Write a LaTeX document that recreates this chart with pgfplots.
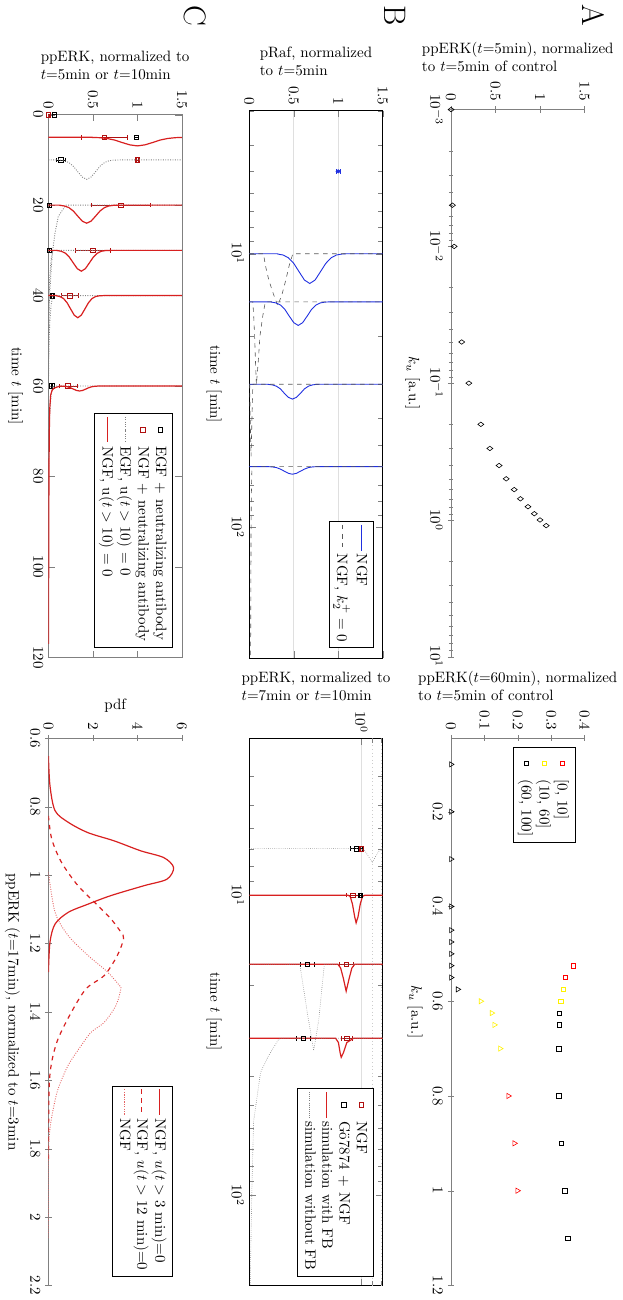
\documentclass[border=0pt]{standalone}
\usepackage{pgfplots}
\pgfplotsset{compat=1.18}
\usepackage{graphicx}
\definecolor{dred}{HTML}{B01010}
\definecolor{lred}{HTML}{D82020}
\definecolor{nblue}{HTML}{2030E0}
\pgfplotsset{
  panel/.style={scale only axis, width=365pt, height=89pt, anchor=north west,
    tick align=inside, ylabel style={align=left},
    legend cell align=left, legend style={font=\normalsize, inner sep=2pt, row sep=-1pt}},
  grayframe/.style={axis line style={gray}, tick style={gray}},
  markleg/.style={legend image code/.code={\path (0cm,0cm) (0.6cm,0cm); \draw[mark repeat=2,mark phase=2,##1] plot coordinates {(0cm,0cm) (0.3cm,0cm) (0.6cm,0cm)};}},
}
\begin{document}
\rotatebox{-90}{%
\begin{tikzpicture}
\node[font=\huge] at (10.7pt,-22.7pt) {A};
\node[font=\huge] at (10.7pt,-155.3pt) {B};
\node[font=\huge] at (10.7pt,-288.7pt) {C};

% ---------------- A left
\begin{axis}[panel, at={(73.3pt,-28.7pt)}, xmode=log, xmin=1e-3, xmax=10, ymin=0, ymax=1.5,
  axis lines=left, axis line style={gray,-}, tick style={gray}, ytick={0,0.5,1,1.5}, clip=false,
  xlabel={$k_u$ [a.u.]}, ylabel={ppERK($t$=5min), normalized\\to $t$=5min of control}]
\addplot[only marks, mark=diamond, mark size=2pt, black] coordinates {
(0.001,0) (0.005,0.015) (0.01,0.035) (0.05,0.12) (0.1,0.2) (0.2,0.335) (0.3,0.436)
(0.4,0.54) (0.5,0.62) (0.6,0.71) (0.7,0.78) (0.8,0.865) (0.9,0.936) (1.0,1.0) (1.1,1.07)};
\end{axis}

% ---------------- A right
\begin{axis}[panel, at={(492.7pt,-28.7pt)}, xmin=0.045, xmax=1.2, ymin=0, ymax=0.4,
  axis lines=left, axis line style={gray,-}, tick style={gray},
  xtick={0.2,0.4,0.6,0.8,1,1.2}, ytick={0,0.1,0.2,0.3,0.4}, clip=false,
  xlabel={$k_u$ [a.u.]}, ylabel={ppERK($t$=60min), normalized\\to $t$=5min of control},
  legend style={at={(0.016,0.93)}, anchor=north west}]
\addplot[only marks, mark=square, mark size=1.5pt, red, markleg] coordinates {(0.525,0.367) (0.55,0.343)};
\addlegendentry{[0, 10]}
\addplot[only marks, mark=square, mark size=1.5pt, yellow, markleg] coordinates {(0.575,0.336) (0.6,0.329)};
\addlegendentry{(10, 60]}
\addplot[only marks, mark=square, mark size=1.5pt, black, markleg] coordinates {
(0.625,0.325) (0.65,0.325) (0.7,0.323) (0.8,0.323) (0.9,0.331) (1.0,0.341) (1.1,0.35)};
\addlegendentry{(60, 100]}
\addplot[only marks, mark=triangle, mark size=2pt, black, forget plot] coordinates {
(0.1,0) (0.2,0) (0.3,0) (0.4,0) (0.45,0) (0.475,0) (0.5,0) (0.525,0) (0.55,0) (0.575,0.02)};
\addplot[only marks, mark=triangle, mark size=2pt, yellow, forget plot] coordinates {
(0.6,0.089) (0.625,0.122) (0.65,0.13) (0.7,0.147)};
\addplot[only marks, mark=triangle, mark size=2pt, red, forget plot] coordinates {
(0.8,0.172) (0.9,0.19) (1.0,0.199)};
\end{axis}

% ---------------- B left
\begin{axis}[panel, at={(74pt,-163.3pt)}, xmode=log, xmin=3, xmax=300, ymin=0, ymax=1.5,
  ytick={0,0.5,1,1.5}, ymajorgrids, grid style={gray!25},
  xlabel={time $t$ [min]}, ylabel={pRaf, normalized\\to $t$=5min},
  legend style={at={(0.982,0.933)}, anchor=north east}]
\addplot[nblue, semithick] coordinates {(10,0) (10,0.32) (10.03,0.32) (10.11,0.38) (10.35,0.44) (10.85,0.5) (11.64,0.56) (12.48,0.62) (12.85,0.68) (12.48,0.74) (11.64,0.8) (10.85,0.86) (10.35,0.92) (10.11,0.98) (10.03,1.04) (10,1.1) (10,1.5)};
\addlegendentry{NGF}
\addplot[gray!70!black, dashed] coordinates {(10,0) (10,0.16) (11,0.18) (12.5,0.22) (14,0.27) (15.5,0.32) (14,0.37) (12.5,0.41) (11,0.45) (10,0.49) (10,1.5)};
\addlegendentry{NGF, $k_2^+=0$}
\addplot[nblue, semithick, forget plot] coordinates {(15,0) (15,0.25) (15.03,0.25) (15.13,0.3) (15.4,0.35) (15.99,0.4) (16.92,0.45) (17.87,0.5) (18.29,0.55) (17.87,0.6) (16.92,0.65) (15.99,0.7) (15.4,0.75) (15.13,0.8) (15.03,0.85) (15,0.9) (15,1.5)};
\addplot[nblue, semithick, forget plot] coordinates {(30,0) (30,0.215) (30.04,0.215) (30.17,0.26) (30.5,0.305) (31.2,0.35) (32.4,0.395) (33.5,0.44) (34,0.485) (33.5,0.53) (32.4,0.575) (31.2,0.62) (30.5,0.665) (30.17,0.71) (30.04,0.755) (30,0.8) (30,1.5)};
\addplot[nblue, semithick, forget plot] coordinates {(60,0) (60,0.215) (60.04,0.215) (60.17,0.26) (60.5,0.305) (61.3,0.35) (62.4,0.395) (63.5,0.44) (64,0.485) (63.5,0.53) (62.4,0.575) (61.3,0.62) (60.5,0.665) (60.17,0.71) (60.04,0.755) (60,0.8) (60,1.5)};
\addplot[gray!70!black, dashed, forget plot] coordinates {(15,0) (15,0.04) (17,0.05) (20,0.06) (25,0.07) (30,0.08) (25,0.1) (20,0.12) (17,0.15) (15,0.18) (15,1.5)};
\addplot[gray!70!black, dashed, forget plot] coordinates {(30,0) (30,0.005) (40,0.01) (55,0.02) (40,0.03) (30,0.04) (30,1.5)};
\addplot[gray!70!black, dashed, forget plot] coordinates {(60,1.5) (60,0.03) (70,0.025) (100,0.02) (300,0.015)};
\addplot[only marks, mark=diamond*, mark size=1.5pt, nblue, forget plot,
  error bars/.cd, y dir=both, y explicit] coordinates {(5,1) +- (0,0.02)};
\end{axis}

% ---------------- B right
\begin{axis}[panel, at={(492.7pt,-163.3pt)}, xmode=log, xmin=3, xmax=200, ymin=0, ymax=1.19,
  ytick={1}, yticklabels={$10^0$}, extra y ticks={1.1,1.18}, extra y tick labels={},
  extra y tick style={grid=major, major grid style={gray!40, dotted}, major tick length=3pt},
  ymajorgrids, grid style={gray!25},
  xlabel={time $t$ [min]}, ylabel={ppERK, normalized to\\$t$=7min or $t$=10min},
  legend style={at={(0.984,0.933)}, anchor=north east}]
\addplot[only marks, mark=square, mark size=1.5pt, dred, markleg, error bars/.cd, y dir=both, y explicit] coordinates {
(7,1.0) +- (0,0.01) (10,0.923) +- (0,0.055) (17,0.864) +- (0,0.06) (30,0.87) +- (0,0.05)};
\addlegendentry{NGF}
\addplot[only marks, mark=square, mark size=1.5pt, black, markleg, error bars/.cd, y dir=both, y explicit] coordinates {
(7,0.953) +- (0,0.055) (10,0.988) +- (0,0.01) (17,0.516) +- (0,0.062) (30,0.48) +- (0,0.065)};
\addlegendentry{Gö7874 + NGF}
\addplot[lred, thick] coordinates {(10,0) (10,0.88) (10.1,0.9) (10.7,0.92) (11.8,0.94) (12.37,0.953) (11.8,0.97) (10.7,0.99) (10.1,1.01) (10,1.03) (10,1.19)};
\addlegendentry{simulation with FB}
\addplot[gray, densely dotted] coordinates {(7,0) (7,1.0) (7.1,1.03) (7.4,1.06) (7.78,1.097) (7.4,1.13) (7.1,1.16) (7,1.19)};
\addlegendentry{simulation without FB}
\addplot[lred, thick, forget plot] coordinates {(17,0) (17,0.79) (17.5,0.815) (19,0.84) (20.9,0.864) (19,0.89) (17.5,0.915) (17,0.94) (17,1.19)};
\addplot[lred, thick, forget plot] coordinates {(30,0) (30,0.77) (31,0.795) (33.5,0.81) (34.7,0.82) (33.5,0.84) (31,0.87) (30,0.93) (30,1.19)};
\addplot[gray, densely dotted, forget plot] coordinates {(17,0) (17,0.45) (20,0.48) (25,0.52) (33,0.575) (26,0.62) (20,0.65) (17,0.67) (17,1.19)};
\addplot[gray, densely dotted, forget plot] coordinates {(30,1.19) (30,0.28) (30.3,0.26) (34.4,0.17) (39,0.1) (57,0.038) (96,0.023) (181,0.01) (200,0.009)};
\end{axis}

% ---------------- C left
\begin{axis}[panel, grayframe, at={(76.7pt,-297.3pt)}, width=362pt, xmin=0, xmax=120, ymin=0, ymax=1.5,
  xtick={0,20,...,120}, ytick={0,0.5,1,1.5}, clip mode=individual,
  xlabel={time $t$ [min]}, ylabel={ppERK, normalized to\\$t$=5min or $t$=10min},
  legend style={at={(0.982,0.933)}, anchor=north east}]
\addplot[only marks, mark=square, mark size=1.5pt, black, markleg, error bars/.cd, y dir=both, y explicit] coordinates {
(0,0.067) +- (0,0.025) (5,0.99) +- (0,0.02) (10,0.14) +- (0,0.05) (20,0.01) +- (0,0.005) (30,0.01) +- (0,0.005) (40,0.045) +- (0,0.01) (60,0.037) +- (0,0.01)};
\addlegendentry{EGF + neutralizing antibody}
\addplot[only marks, mark=square, mark size=1.5pt, dred, markleg, error bars/.cd, y dir=both, y explicit] coordinates {
(0,0) +- (0,0.005) (5,0.63) +- (0,0.26) (10,1.0) +- (0,0.01) (20,0.815) +- (0,0.33) (30,0.5) +- (0,0.2) (40,0.24) +- (0,0.1) (60,0.22) +- (0,0.1)};
\addlegendentry{NGF + neutralizing antibody}
\addplot[gray, densely dotted, semithick] coordinates {(10,0) (10,0.13) (10.05,0.13) (10.19,0.18) (10.58,0.23) (11.4,0.28) (12.61,0.33) (13.79,0.38) (14.3,0.43) (13.79,0.48) (12.61,0.53) (11.4,0.58) (10.58,0.63) (10.19,0.68) (10.05,0.73) (10,0.8) (10,1.5)};
\addlegendentry{EGF, u($t>10$) = 0}
\addplot[lred, thick] coordinates {(5,0) (5,0.49) (5.02,0.49) (5.08,0.575) (5.26,0.66) (5.61,0.745) (6.16,0.83) (6.67,0.915) (6.9,1.0) (6.67,1.085) (6.16,1.17) (5.61,1.255) (5.26,1.34) (5.08,1.425) (5.02,1.5)};
\addlegendentry{NGF, u($t>10$) = 0}
\addplot[gray, densely dotted, semithick, forget plot] coordinates {(20,1.5) (20,0.2) (20.3,0.185) (22.5,0.111) (26.2,0.074) (30.6,0.044) (35.7,0.026) (40.9,0.011) (47.5,0.004) (55,0.001) (60,0)};
\addplot[gray, densely dotted, semithick, forget plot] coordinates {(30,1.5) (30,0.05) (32,0.03) (36,0.015) (42,0.005) (50,0)};
\addplot[gray, densely dotted, semithick, forget plot] coordinates {(40,1.5) (40,0.05) (42,0.03) (46,0.015) (52,0.005) (60,0)};
\addplot[gray, densely dotted, semithick, forget plot] coordinates {(60,1.5) (60,0.05) (62,0.03) (66,0.015) (72,0.005) (80,0)};
\addplot[lred, thick, forget plot] coordinates {(20,0) (20,0.13) (20.04,0.13) (20.18,0.18) (20.54,0.23) (21.3,0.28) (22.43,0.33) (23.53,0.38) (24,0.43) (23.53,0.48) (22.43,0.53) (21.3,0.58) (20.54,0.63) (20.18,0.68) (20.04,0.73) (20,0.8) (20,1.5)};
\addplot[lred, thick, forget plot] coordinates {(30,0) (30,0.1) (30.05,0.1) (30.2,0.145) (30.62,0.19) (31.49,0.235) (32.79,0.28) (34.06,0.325) (34.6,0.37) (34.06,0.415) (32.79,0.46) (31.49,0.505) (30.62,0.55) (30.2,0.595) (30.05,0.64) (30,0.7) (30,1.5)};
\addplot[lred, thick, forget plot] coordinates {(40,0) (40,0.09) (40.05,0.09) (40.22,0.13) (40.66,0.17) (41.59,0.21) (42.97,0.25) (44.32,0.29) (44.9,0.33) (44.32,0.37) (42.97,0.41) (41.59,0.45) (40.66,0.49) (40.22,0.53) (40.05,0.57) (40,0.62) (40,1.5)};
\addplot[lred, thick, forget plot] coordinates {(117,0) (100,0.003) (80,0.006) (70,0.01) (65,0.015) (62,0.025) (61,0.04) (60.5,0.06) (60.2,0.1) (60.05,0.13) (60.01,0.14) (60.05,0.175) (60.15,0.21) (60.36,0.245) (60.67,0.28) (60.97,0.315) (61.1,0.35) (60.97,0.385) (60.67,0.42) (60.36,0.455) (60.15,0.49) (60.05,0.525) (60.01,0.56) (60,0.6) (60,1.5)};
\end{axis}

% ---------------- C right
\begin{axis}[panel, at={(492.7pt,-297.3pt)}, xmin=0.6, xmax=2.2, ymin=0, ymax=6,
  axis lines=left, axis line style={gray,-}, tick style={gray},
  xtick={0.6,0.8,...,2.2}, ytick={0,2,4,6},
  xticklabel style={/pgf/number format/fixed, /pgf/number format/precision=1},
  xlabel={ppERK ($t$=17min), normalized to $t$=3min}, ylabel={pdf},
  legend style={at={(0.984,0.933)}, anchor=north east}]
\addplot[lred, thick, smooth] coordinates {(0.652,0) (0.739,0.07) (0.812,0.3) (0.846,0.9) (0.876,1.78) (0.9,2.96) (0.929,4.15) (0.949,5.19) (0.978,5.63) (1.012,5.33) (1.031,4.3) (1.06,2.81) (1.085,1.78) (1.109,0.89) (1.143,0.3) (1.196,0.07) (1.284,0)};
\addlegendentry{NGF, $u(t>3$ min$)$=0}
\addplot[lred, thick, dashed, smooth] coordinates {(0.827,0) (0.895,0.15) (0.963,0.59) (1.031,1.33) (1.089,2.22) (1.128,2.81) (1.167,3.26) (1.186,3.38) (1.235,3.1) (1.293,2.52) (1.332,1.7) (1.4,1.04) (1.478,0.44) (1.546,0.15) (1.624,0.03) (1.84,0)};
\addlegendentry{NGF, $u(t>12$ min$)$=0}
\addplot[lred!70, densely dotted, semithick, smooth] coordinates {(0.992,0) (1.109,0.3) (1.177,0.89) (1.235,1.78) (1.284,2.67) (1.323,3.19) (1.332,3.26) (1.381,3.04) (1.43,2.52) (1.459,1.93) (1.498,1.48) (1.556,0.89) (1.624,0.44) (1.683,0.22) (1.741,0.07) (1.819,0) (2.06,0)};
\addlegendentry{NGF}
\end{axis}
\end{tikzpicture}}
\end{document}
